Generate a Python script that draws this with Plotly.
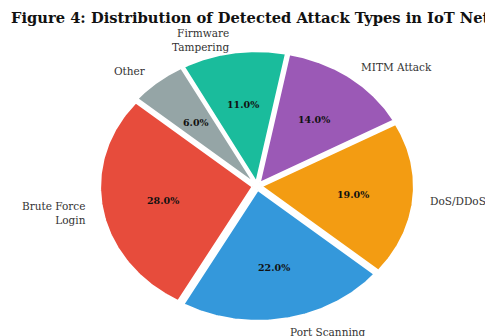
import numpy as np
import plotly.graph_objects as go

# Attack categories and their share of detected incidents (%)
categories = ["Brute Force Login", "Port Scanning", "DoS/DDoS",
              "MITM Attack", "Firmware Tampering", "Other"]
display_labels = ["Brute Force<br>Login", "Port Scanning", "DoS/DDoS",
                  "MITM Attack", "Firmware<br>Tampering", "Other"]
shares = [28, 22, 19, 14, 11, 6]
colors = ["#e74c3c", "#3498db", "#f39c12", "#9b59b6", "#1abc9c", "#95a5a6"]
explode = [0.03, 0.03, 0.03, 0.03, 0.03, 0.03]

title_text = "Figure 4: Distribution of Detected Attack Types in IoT Networks"

START_ANGLE = 140.0     # degrees, counter-clockwise from 3 o'clock
LABEL_DIST = 1.1
PCT_DIST = 0.6
SERIF = "DejaVu Serif"

W, H = 485, 336
# pixel geometry of the pie area (unit circle -> ellipse via axis scaling)
CX, CY, RX, RY = 257.0, 186.0, 152.4, 131.0

fig = go.Figure()

total = float(sum(shares))
theta0 = START_ANGLE
annotations = []
for cat, lab, val, col, ex in zip(categories, display_labels, shares, colors, explode):
    span = 360.0 * val / total
    theta1 = theta0 + span
    mid = np.deg2rad((theta0 + theta1) / 2)
    ox, oy = ex * np.cos(mid), ex * np.sin(mid)
    t = np.deg2rad(np.linspace(theta0, theta1, 120))
    xs = np.concatenate([[ox], ox + np.cos(t), [ox]])
    ys = np.concatenate([[oy], oy + np.sin(t), [oy]])
    fig.add_trace(go.Scatter(
        x=xs, y=ys, mode="lines", fill="toself", fillcolor=col,
        line=dict(color="white", width=2), name=cat,
        hoverinfo="name", showlegend=False))

    # outer category label
    lx = ox + LABEL_DIST * np.cos(mid)
    ly = oy + LABEL_DIST * np.sin(mid)
    right_side = lx > 0
    annotations.append(dict(
        x=lx, y=ly, xref="x", yref="y", text=lab, showarrow=False,
        xanchor="left" if right_side else "right", yanchor="middle",
        align="left" if right_side else "right",
        font=dict(family=SERIF, size=10.5, color="#333333")))

    # percentage inside the wedge
    px_ = ox + PCT_DIST * np.cos(mid)
    py_ = oy + PCT_DIST * np.sin(mid)
    annotations.append(dict(
        x=px_, y=py_, xref="x", yref="y", text=f"<b>{val / total * 100:.1f}%</b>",
        showarrow=False, xanchor="center", yanchor="middle",
        font=dict(family=SERIF, size=9.5, color="#111111")))
    theta0 = theta1

annotations.append(dict(
    x=9 / W, y=1 - 17 / H, xref="paper", yref="paper",
    text=f"<b>{title_text}</b>", showarrow=False,
    xanchor="left", yanchor="middle",
    font=dict(family=SERIF, size=14.7, color="#111111")))

fig.update_layout(
    width=W, height=H,
    margin=dict(l=0, r=0, t=0, b=0),
    paper_bgcolor="white", plot_bgcolor="white",
    xaxis=dict(range=[-CX / RX, (W - CX) / RX], visible=False, fixedrange=True),
    yaxis=dict(range=[-(H - CY) / RY, CY / RY], visible=False, fixedrange=True),
    annotations=annotations,
    showlegend=False,
)

fig.write_html("out.html")
